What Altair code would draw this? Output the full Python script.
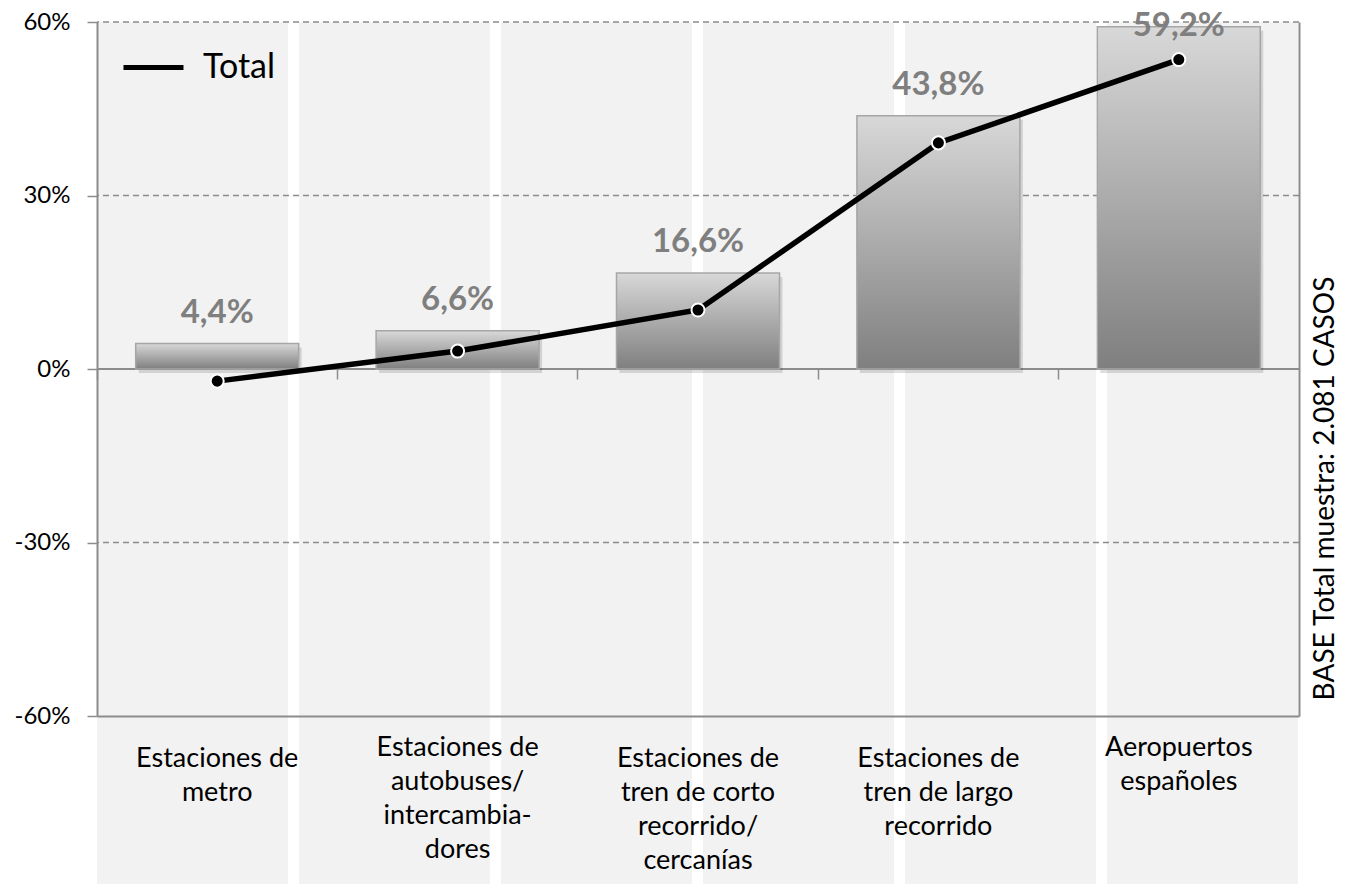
import altair as alt
import pandas as pd

# ---------------- data ----------------
categories = [
    "Estaciones de\nmetro",
    "Estaciones de\nautobuses/\nintercambia-\ndores",
    "Estaciones de\ntren de corto\nrecorrido/\ncercanías",
    "Estaciones de\ntren de largo\nrecorrido",
    "Aeropuertos\nespañoles",
]
bar_values = [4.4, 6.6, 16.6, 43.8, 59.2]
total_values = [-2.1, 3.1, 10.2, 39.1, 53.5]
y_ticks = [-60, -30, 0, 30, 60]
grid_values = [-30, 30, 60]
stripe_index = [0, 1, 2, 3, 4, 5]
series_name = "Total"
side_note = "BASE Total muestra: 2.081 CASOS"

# ---------------- layout / style ----------------
W, H = 1202, 694
PAD = {"left": 89, "top": 14, "right": 41, "bottom": 168}
FONT = "Lato"
GRAY = "#8c8c8c"

df = pd.DataFrame({"cat": categories, "v": bar_values, "t": total_values,
                   "i": list(range(len(categories)))})
stripes = pd.DataFrame({"s": stripe_index})
grid = pd.DataFrame({"g": grid_values})
zero = pd.DataFrame({"z": [0]})

yscale = alt.Scale(domain=[-60, 60], nice=False, zero=False)
xscale = alt.Scale(type="band", paddingInner=0, paddingOuter=0, domain=categories)

# background stripes (decorative)
stripe_layer = (
    alt.Chart(stripes)
    .transform_calculate(s1="datum.s + 0.945")
    .mark_rect(color="#f2f2f2")
    .encode(
        x=alt.X("s:Q", scale=alt.Scale(domain=[0, 5.95], nice=False, zero=False), axis=None),
        x2="s1:Q",
        y=alt.value(0),
        y2=alt.value(H + PAD["bottom"]),
    )
)

grid_layer = (
    alt.Chart(grid)
    .mark_rule(color=GRAY, strokeWidth=1.3, strokeDash=[6, 4])
    .encode(
        y=alt.Y(
            "g:Q",
            scale=yscale,
            axis=alt.Axis(
                orient="left", values=y_ticks, labelExpr="datum.value + '%'",
                title=None, grid=False, tickSize=10, tickColor=GRAY, tickWidth=1.5,
                domainColor=GRAY, domainWidth=2, labelFont=FONT, labelFontSize=24,
                labelColor="#000000", labelPadding=17, zindex=1,
            ),
        )
    )
)

zero_layer = (
    alt.Chart(zero)
    .mark_rule(color=GRAY, strokeWidth=2)
    .encode(y=alt.Y("z:Q", scale=yscale, axis=None))
)

BAR_BAND = 0.678

shadow_layer = (
    alt.Chart(df)
    .mark_bar(color="#000000", opacity=0.13, xOffset=3, yOffset=4,
              width=alt.RelativeBandSize(BAR_BAND))
    .encode(
        x=alt.X("cat:N", scale=xscale, sort=categories, axis=None),
        y=alt.Y("v:Q", scale=yscale, axis=None),
    )
)

bar_layer = (
    alt.Chart(df)
    .mark_bar(
        color=alt.LinearGradient(
            gradient="linear",
            stops=[alt.GradientStop(color="#d8d8d8", offset=0),
                   alt.GradientStop(color="#7f7f7f", offset=1)],
            x1=0, x2=0, y1=0, y2=1,
        ),
        stroke="#a6a6a6", strokeWidth=1.5,
        width=alt.RelativeBandSize(BAR_BAND),
    )
    .encode(
        x=alt.X(
            "cat:N", scale=xscale, sort=categories,
            axis=alt.Axis(
                orient="bottom", title=None, labelAngle=0,
                labelExpr="split(datum.value, '\\n')",
                labelFont=FONT, labelFontSize=27, labelColor="#000000",
                labelLineHeight=34, labelBaseline="top", labelLimit=400,
                ticks=False, domainColor=GRAY, domainWidth=2,
                labelPadding={"expr": "indexof(datum.value, 'Aeropuertos') >= 0 || indexof(datum.value, 'autobuses') >= 0 ? 18 : 29"},
                zindex=1,
            ),
        ),
        y=alt.Y("v:Q", scale=yscale, axis=None),
    )
)

label_layer = (
    alt.Chart(df)
    .transform_calculate(
        ly="min(datum.v + 3.6, 57.6)",
        lab="replace(format(datum.v, '.1f'), '.', ',') + '%'",
    )
    .mark_text(font=FONT, fontSize=33, fontWeight="bold", color="#7f7f7f", baseline="alphabetic")
    .encode(
        x=alt.X("cat:N", scale=xscale, sort=categories, axis=None),
        y=alt.Y("ly:Q", scale=yscale, axis=None),
        text="lab:N",
    )
)

line_layer = (
    alt.Chart(df)
    .transform_calculate(series=f"'{series_name}'")
    .mark_line(strokeWidth=5.5)
    .encode(
        x=alt.X(
            "cat:N", scale=xscale, sort=categories,
            axis=alt.Axis(
                orient="bottom", offset=-H / 2, labels=False, domain=False,
                ticks=True, tickSize=10, tickColor=GRAY, tickWidth=1.5,
                bandPosition=0, title=None, grid=False, zindex=1,
            ),
        ),
        y=alt.Y(
            "t:Q", scale=yscale,
            axis=alt.Axis(
                orient="right", labels=False, ticks=False, grid=False,
                domain=True, domainColor=GRAY, domainWidth=2,
                title=side_note, titleFont=FONT, titleFontSize=28,
                titleFontWeight="normal", titleColor="#000000",
                titleAngle=270, titleX=26, titleY=466,
                titleAlign="center", titleBaseline="middle", zindex=1,
            ),
        ),
        order=alt.Order("i:Q"),
        color=alt.Color(
            "series:N",
            scale=alt.Scale(range=["#000000"]),
            legend=alt.Legend(
                orient="none", legendX=24, legendY=13, title=None,
                symbolType="stroke", symbolSize=3600, symbolStrokeWidth=5,
                labelFont=FONT, labelFontSize=34, labelColor="#000000",
                labelOffset=17,
            ),
        ),
    )
)

point_layer = (
    alt.Chart(df)
    .mark_circle(size=170, color="#000000", opacity=1, stroke="#ffffff", strokeWidth=2)
    .encode(
        x=alt.X("cat:N", scale=xscale, sort=categories, axis=None),
        y=alt.Y("t:Q", scale=yscale, axis=None),
    )
)

inner = alt.layer(
    grid_layer, zero_layer, shadow_layer, bar_layer, label_layer, line_layer, point_layer
).resolve_axis(x="independent", y="independent")

chart = (
    alt.layer(stripe_layer, inner)
    .resolve_scale(x="independent")
    .properties(width=W, height=H, autosize="none", padding=PAD, background="#ffffff")
    .configure_view(stroke=None)
)

chart.save("out.html", embed_options={"renderer": "svg", "actions": False})
